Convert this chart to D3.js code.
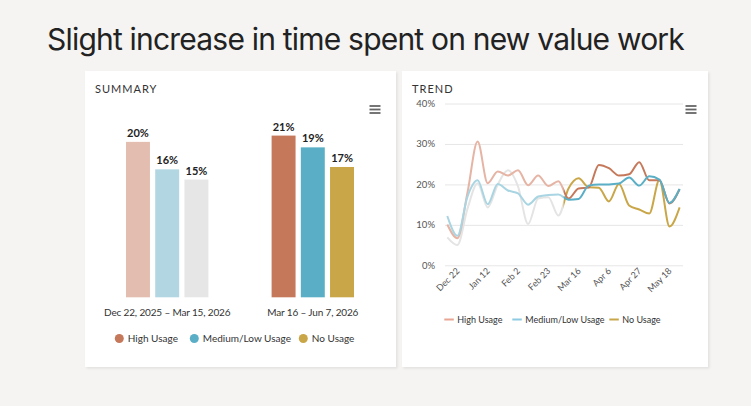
<!DOCTYPE html>
<html>
<head>
<meta charset="utf-8">
<script src="https://cdn.jsdelivr.net/npm/d3@7"></script>
<style>
  html, body { margin: 0; padding: 0; background: #f5f4f2; }
  svg { display: block; }
  text { font-family: Lato, "Noto Sans", sans-serif; }
</style>
</head>
<body>
<div id="chart"></div>
<script>
// summary data (share of time)
const periods = ["Dec 22, 2025 \u2013 Mar 15, 2026", "Mar 16 \u2013 Jun 7, 2026"];
const usages = ["High Usage", "Medium/Low Usage", "No Usage"];
const summaryBefore = [0.198, 0.163, 0.150];
const summaryAfter = [0.206, 0.191, 0.166];

// weekly trend data (percent)
const weeks = ["2025-12-22", "2025-12-29", "2026-01-05", "2026-01-12", "2026-01-19", "2026-01-26",
  "2026-02-02", "2026-02-09", "2026-02-16", "2026-02-23", "2026-03-02", "2026-03-09",
  "2026-03-16", "2026-03-23", "2026-03-30", "2026-04-06", "2026-04-13", "2026-04-20",
  "2026-04-27", "2026-05-04", "2026-05-11", "2026-05-18", "2026-05-25", "2026-06-01"];
const highTrend = [10.1, 6.7, 18, 30.6, 20.3, 23.2, 22.2, 23.5, 19.8, 22.2, 19.6, 20.8,
  16.5, 19.0, 19.2, 24.8, 24.0, 22.2, 22.5, 25.5, 21.0, 21.0, 15.3, 18.8];
const mediumTrend = [12.2, 7.3, 17, 21.0, 15.1, 20.1, 18.5, 17.8, 15.0, 17.0, 17.4, 17.5,
  16.2, 16.4, 19.7, 20.0, 20.0, 20.2, 21.7, 19.7, 22.0, 21.2, 15.4, 18.9];
const noTrend = [6.9, 5.0, 14, 20.3, 14.3, 20.0, 23.5, 19.5, 10.2, 16.5, 16.8, 12.3,
  19.0, 21.5, 19.3, 19.2, 15.8, 20.1, 14.8, 13.8, 12.8, 21.1, 9.6, 14.3];
const periodStart = "2026-03-16";

const yTicks = [0, 10, 20, 30, 40];
const xTickDates = ["2025-12-22", "2026-01-12", "2026-02-02", "2026-02-23",
  "2026-03-16", "2026-04-06", "2026-04-27", "2026-05-18"];

const darkColors = ["#c5785a", "#5aafc6", "#c9a648"];
const lightColors = ["#e3bdb0", "#b2d7e3", "#e6e6e6"];
const trendLight = ["#e6b4a4", "#a9d5e3", "#e4e4e4"];
const legendLine = ["#e8a593", "#8fcbe0", "#c9a648"];

const W = 751, H = 406;
const svg = d3.select("#chart").append("svg")
  .attr("width", W).attr("height", H);

svg.append("rect").attr("width", W).attr("height", H).attr("fill", "#f5f4f2");

svg.append("text")
  .attr("x", 47).attr("y", 50)
  .attr("textLength", 637).attr("lengthAdjust", "spacingAndGlyphs")
  .style("font-family", "Inter, Lato, sans-serif")
  .style("font-size", "30px")
  .style("letter-spacing", "-0.8px")
  .attr("fill", "#222")
  .text("Slight increase in time spent on new value work");

const defs = svg.append("defs");
const shadow = defs.append("filter").attr("id", "shadow")
  .attr("x", "-5%").attr("y", "-5%").attr("width", "110%").attr("height", "110%");
shadow.append("feDropShadow").attr("dx", 1.5).attr("dy", 1.5).attr("stdDeviation", 1.2)
  .attr("flood-color", "#000").attr("flood-opacity", 0.08);

function panel(x, y, w, h, title) {
  svg.append("rect").attr("x", x).attr("y", y).attr("width", w).attr("height", h)
    .attr("fill", "#fff").attr("filter", "url(#shadow)");
  svg.append("text").attr("x", x + 10).attr("y", 92.5)
    .style("font-size", "11px").style("letter-spacing", "1px")
    .attr("fill", "#333").text(title);
}

function menu(x, y) {
  let g = svg.append("g").attr("transform", `translate(${x},${y})`);
  g.selectAll("line").data([0, 3.5, 7]).enter().append("line")
    .attr("x1", 0).attr("x2", 11).attr("y1", d => d).attr("y2", d => d)
    .attr("stroke", "#666").attr("stroke-width", 1.8);
}

// ---------- summary ----------
panel(85, 71, 311, 296, "SUMMARY");
menu(369.5, 106);

let x0 = d3.scaleBand().domain(periods).range([94.4, 385.6]).padding(0);
let x1 = d3.scaleBand().domain(usages).range([-41.2, 41.2]).paddingInner(0.18);
let yBar = d3.scaleLinear().domain([0, 0.25]).range([297.3, 101.05]);

let groups = svg.selectAll(".group")
  .data([summaryBefore, summaryAfter])
  .enter().append("g")
  .attr("class", "group")
  .attr("transform", (d, i) => "translate(" + (x0(periods[i]) + x0.bandwidth() / 2) + ",0)");

groups.each(function(vals, gi) {
  let g = d3.select(this);
  let cols = gi == 0 ? lightColors : darkColors;
  g.selectAll("rect").data(vals).enter().append("rect")
    .attr("x", (d, i) => x1(usages[i]))
    .attr("width", x1.bandwidth())
    .attr("y", d => yBar(d))
    .attr("height", d => yBar(0) - yBar(d))
    .attr("fill", (d, i) => cols[i]);
  g.selectAll("text.val").data(vals).enter().append("text")
    .attr("class", "val")
    .attr("x", (d, i) => x1(usages[i]) + x1.bandwidth() / 2)
    .attr("y", d => yBar(d) - 5)
    .attr("text-anchor", "middle")
    .style("font-size", "11px").style("font-weight", "bold")
    .attr("fill", "#222")
    .text(d => d3.format(".0%")(d));
});

svg.append("g")
  .attr("transform", "translate(0,297.3)")
  .call(d3.axisBottom(x0).tickSize(0).tickPadding(12))
  .call(g => g.select(".domain").remove())
  .selectAll("text")
  .style("font-size", "10px").style("font-family", "Lato, sans-serif")
  .style("letter-spacing", "-0.15px")
  .attr("fill", "#333");

let legX = [119.3, 194.3, 303.3];
let leg = svg.selectAll(".leg").data(usages).enter().append("g")
  .attr("transform", (d, i) => `translate(${legX[i]},338.5)`);
leg.append("circle").attr("r", 4.5).attr("fill", (d, i) => darkColors[i]);
leg.append("text").attr("x", 8.5).attr("y", 3.6)
  .style("font-size", "10px").attr("fill", "#333").text(d => d);

// ---------- trend ----------
panel(402, 71, 306, 296, "TREND");
menu(685.5, 106);

const parse = d3.timeParse("%Y-%m-%d");
const dates = weeks.map(parse);
let x = d3.scaleTime().domain(d3.extent(dates)).range([447.3, 679.6]);
let y = d3.scaleLinear().domain([0, 40]).range([265.3, 103.5]);

svg.append("g")
  .attr("transform", "translate(445,0)")
  .call(d3.axisLeft(y).tickValues(yTicks).tickSize(-238).tickPadding(10)
    .tickFormat(d => d + "%"))
  .call(g => g.select(".domain").remove())
  .call(g => g.selectAll("line").attr("stroke", "#e6e6e6"))
  .call(g => g.selectAll("text").style("font-size", "9.5px").attr("fill", "#555"));

svg.append("g")
  .attr("transform", "translate(6,265.3)")
  .call(d3.axisBottom(x).tickValues(xTickDates.map(parse)).tickSize(0)
    .tickFormat(d3.timeFormat("%b %-d")))
  .call(g => g.select(".domain").remove())
  .selectAll("text")
  .attr("text-anchor", "end")
  .attr("dy", 0).attr("y", 9)
  .attr("transform", "rotate(-45)")
  .style("font-size", "9px").attr("fill", "#555");

let splitX = (x(parse("2026-03-09")) + x(parse(periodStart))) / 2;
defs.append("clipPath").attr("id", "clipBefore").append("rect")
  .attr("x", 400).attr("y", 90).attr("width", splitX - 400).attr("height", 200);
defs.append("clipPath").attr("id", "clipAfter").append("rect")
  .attr("x", splitX).attr("y", 90).attr("width", 700 - splitX).attr("height", 200);

let line = d3.line()
  .x((d, i) => x(dates[i]))
  .y(d => y(d))
  .curve(d3.curveMonotoneX);

let trends = [highTrend, mediumTrend, noTrend];
// draw no usage first so the others sit on top
[2, 0, 1].forEach(k => {
  svg.append("path").attr("d", line(trends[k]))
    .attr("fill", "none").attr("stroke", trendLight[k]).attr("stroke-width", 2)
    .attr("clip-path", "url(#clipBefore)");
});
[2, 0, 1].forEach(k => {
  svg.append("path").attr("d", line(trends[k]))
    .attr("fill", "none").attr("stroke", darkColors[k]).attr("stroke-width", 2)
    .attr("clip-path", "url(#clipAfter)");
});

let tlegX = [444.3, 512.3, 609.3];
let tleg = svg.selectAll(".tleg").data(usages).enter().append("g")
  .attr("transform", (d, i) => `translate(${tlegX[i]},319.5)`);
tleg.append("line").attr("x1", 0).attr("x2", 9.5)
  .attr("stroke", (d, i) => legendLine[i]).attr("stroke-width", 2);
tleg.append("text").attr("x", 13).attr("y", 3.2)
  .style("font-size", "9px").attr("fill", "#333").text(d => d);
</script>
</body>
</html>
